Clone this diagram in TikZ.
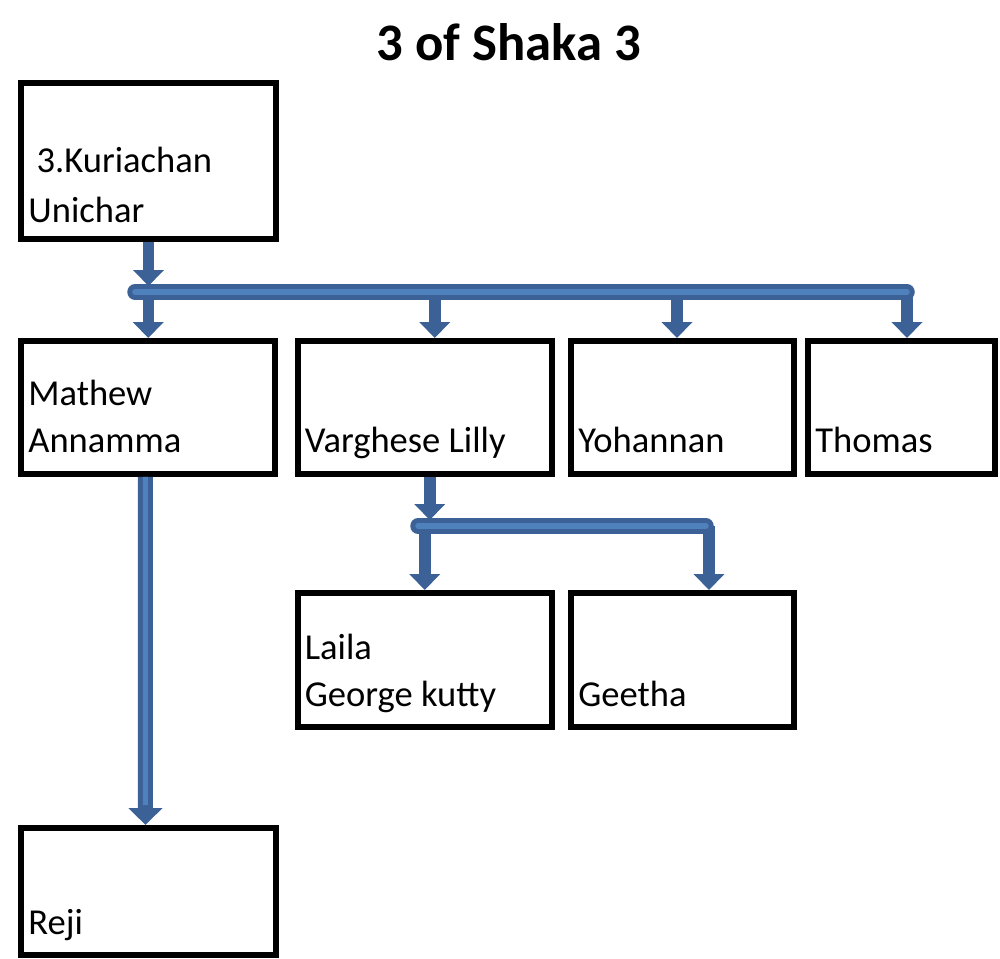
\documentclass[tikz,border=0pt]{standalone}
\usepackage{fontspec}
\setmainfont{Carlito}
\usepackage{tikz}
\usetikzlibrary{arrows.meta}
\usetikzlibrary{positioning}

\definecolor{kinblue}{RGB}{60,97,150}
\definecolor{kinlight}{RGB}{79,129,189}

\tikzset{
  kinbox/.style={draw, line width=0.12cm},
  kintext/.style={inner sep=0pt, text depth=0pt, align=left,
    font=\fontsize{20.8}{26.7}\selectfont},
  kinarrow/.style={draw=kinblue, line width=0.23cm,
    -{Triangle[width=0.6cm,length=0.32cm]}},
  kinbus/.style={draw=kinblue, line width=0.1cm, double=kinlight,
    double distance=0.11cm, line cap=round},
}

\begin{document}
\begin{tikzpicture}[x=0.02cm, y=-0.02cm]
      \useasboundingbox (0,0) rectangle (1000,959);

      \node [font=\bfseries\fontsize{30}{36}\selectfont, anchor=base] (title) at (509,61) {3 of Shaka 3};

      % boxes
      \node [kinbox, minimum width=5.10cm, minimum height=3.12cm] (kuri) at (148.5,161) {};
      \node [kinbox, minimum width=5.09cm, minimum height=2.66cm] (mathew) at (148.25,407.5) {};
      \node [kinbox, minimum width=5.09cm, minimum height=2.66cm] (varghese) at (424.75,407.5) {};
      \node [kinbox, minimum width=4.46cm, minimum height=2.66cm] (yohannan) at (682.5,407.5) {};
      \node [kinbox, minimum width=3.74cm, minimum height=2.66cm] (thomas) at (901.5,407.5) {};
      \node [kinbox, minimum width=5.09cm, minimum height=2.68cm] (laila) at (424.75,660) {};
      \node [kinbox, minimum width=4.46cm, minimum height=2.68cm] (geetha) at (682.5,660) {};
      \node [kinbox, minimum width=5.10cm, minimum height=2.54cm] (reji) at (148.5,891.5) {};

      % names
      \node [kintext, above right=0.38cm and 0.2cm of kuri.south west] (kuritext) {\ 3.Kuriachan\\[0.06cm]Unichar};
      \node [kintext, above right=0.48cm and 0.2cm of mathew.south west] (mathewtext) {Mathew\\Annamma};
      \node [kintext, above right=0.48cm and 0.2cm of varghese.south west] (varghesetext) {Varghese Lilly};
      \node [kintext, above right=0.48cm and 0.2cm of yohannan.south west] (yohannantext) {Yohannan};
      \node [kintext, above right=0.48cm and 0.2cm of thomas.south west] (thomastext) {Thomas};
      \node [kintext, above right=0.46cm and 0.2cm of laila.south west] (lailatext) {Laila\\George kutty};
      \node [kintext, above right=0.46cm and 0.2cm of geetha.south west] (geethatext) {Geetha};
      \node [kintext, above right=0.46cm and 0.2cm of reji.south west] (rejitext) {Reji};

      \coordinate (bus1w) at (135,292);
      \coordinate (bus1e) at (907,292);
      \coordinate (bus2w) at (418,526);
      \coordinate (bus2e) at (706,526);

      % first generation
      \draw [kinarrow, shorten >=0.12cm] (kuri.south) -- (kuri.south |- bus1w);
      \draw [kinarrow] (bus1w -| mathew.north) -- (mathew.north);
      \draw [kinarrow] ([xshift=0.2cm]varghese.north |- bus1w) -- ([xshift=0.2cm]varghese.north);
      \draw [kinarrow] ([xshift=-0.11cm]yohannan.north |- bus1w) -- ([xshift=-0.11cm]yohannan.north);
      \draw [kinarrow] ([xshift=0.11cm]thomas.north |- bus1w) -- ([xshift=0.11cm]thomas.north);
      \draw [kinbus] (bus1w) -- (bus1e);

      % second generation
      \draw [kinarrow, shorten >=0.12cm] ([xshift=0.1cm]varghese.south) -- ([xshift=0.1cm]varghese.south |- bus2w);
      \draw [kinarrow] (bus2w -| laila.north) -- (laila.north);
      \draw [kinarrow] ([xshift=0.53cm]geetha.north |- bus2w) -- ([xshift=0.53cm]geetha.north);
      \draw [kinbus] (bus2w) -- (bus2e);

      \draw [kinarrow, line width=0.3cm, -{Triangle[width=0.66cm,length=0.34cm]}]
      ([xshift=-0.06cm]mathew.south) -- ([xshift=-0.06cm]reji.north);
      \draw [kinlight, line width=0.1cm, shorten >=0.4cm]
      ([xshift=-0.06cm]mathew.south) -- ([xshift=-0.06cm]reji.north);
    \end{tikzpicture}
\end{document}
